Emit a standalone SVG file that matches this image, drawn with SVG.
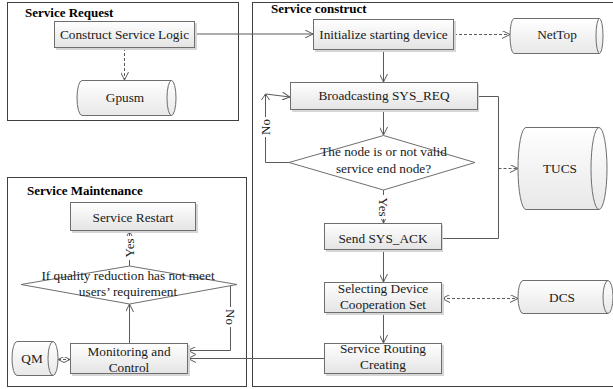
<svg xmlns="http://www.w3.org/2000/svg" width="613" height="389" viewBox="0 0 613 389">
  <defs>
    <linearGradient id="boxFill" x1="0" y1="0" x2="0" y2="1">
      <stop offset="0" stop-color="#ffffff"/>
      <stop offset="1" stop-color="#e4e4e4"/>
    </linearGradient>
    <linearGradient id="cylFill" x1="0" y1="0" x2="0" y2="1">
      <stop offset="0" stop-color="#ffffff"/>
      <stop offset="1" stop-color="#e8e8e8"/>
    </linearGradient>
    <marker id="arr" viewBox="0 0 8 8" refX="8" refY="4" markerWidth="8" markerHeight="8" markerUnits="userSpaceOnUse" orient="auto-start-reverse">
      <path d="M0,0 L8,4 L0,8" fill="none" stroke="#5a5a5a" stroke-width="1"/>
    </marker>
    <marker id="arrS" viewBox="0 0 6 6" refX="6" refY="3" markerWidth="6" markerHeight="6" markerUnits="userSpaceOnUse" orient="auto-start-reverse">
      <path d="M0,0 L6,3 L0,6" fill="none" stroke="#5a5a5a" stroke-width="1"/>
    </marker>
  </defs>
  <style>
    .frame { fill: #ffffff; stroke: #404040; stroke-width: 1; }
    .title { font-family: "Liberation Serif", "Times New Roman", serif; font-size: 13px; font-weight: bold; fill: #000; }
    .box { fill: url(#boxFill); stroke: #6e6e6e; stroke-width: 1; }
    .shadow { fill: #d6d6d6; }
    .cyl { fill: url(#cylFill); stroke: #6e6e6e; stroke-width: 1; }
    .cylEnd { fill: none; stroke: #6e6e6e; stroke-width: 1; }
    .dia { fill: #ffffff; stroke: #6e6e6e; stroke-width: 1; }
    .t { font-family: "Liberation Serif", "Times New Roman", serif; font-size: 13.3px; fill: #1a1a1a; text-anchor: middle; }
    .lbl { font-family: "Liberation Serif", "Times New Roman", serif; font-size: 13px; fill: #1a1a1a; text-anchor: middle; }
    .lblbg { fill: #ffffff; }
    .c { fill: none; stroke: #5a5a5a; stroke-width: 1; }
    .d { fill: none; stroke: #5a5a5a; stroke-width: 1; stroke-dasharray: 3 2; }
  </style>

  <!-- section frames -->
  <g id="section-request">
    <rect class="frame" x="7.5" y="2.5" width="231" height="118"/>
    <text class="title" x="25" y="17">Service Request</text>
  </g>
  <g id="section-construct">
    <rect class="frame" x="252.5" y="2.5" width="362" height="384"/>
    <text class="title" x="271" y="13">Service construct</text>
  </g>
  <g id="section-maintenance">
    <rect class="frame" x="7.5" y="177.5" width="239" height="209"/>
    <text class="title" x="27" y="195">Service Maintenance</text>
  </g>

  <!-- connectors -->
  <g id="connectors">
    <!-- request -> construct -->
    <path class="c" d="M195,34 H313" marker-end="url(#arr)"/>
    <path class="d" d="M124.5,48 V80" marker-end="url(#arr)"/>
    <path class="d" d="M454,34.5 H510" marker-end="url(#arr)"/>
    <path class="c" d="M383.5,50 V82" marker-end="url(#arr)"/>
    <path class="c" d="M383.5,110 V135" marker-end="url(#arr)"/>
    <!-- no loop back to broadcasting -->
    <path class="c" d="M289,162.5 H265.5 V94 L290,97" marker-end="url(#arr)"/>
    <path class="c" d="M261.5,100 L265.5,94 L269.5,100"/>
    <!-- yes branch -->
    <path class="c" d="M383.5,190 V223" marker-end="url(#arr)"/>
    <!-- broadcasting / send ack to TUCS -->
    <path class="c" d="M478,96.5 H498.5 V238.5 H441"/>
    <path class="d" d="M498.5,168.5 H518" marker-end="url(#arr)"/>
    <path class="c" d="M383.5,250 V282" marker-end="url(#arr)"/>
    <path class="d" d="M442,298.5 H518" marker-start="url(#arr)" marker-end="url(#arr)"/>
    <path class="c" d="M383.5,313 V343" marker-end="url(#arr)"/>
    <!-- routing -> monitoring -->
    <path class="c" d="M324,358.5 H188" marker-end="url(#arr)"/>
    <!-- maintenance loop -->
    <path class="c" d="M129.5,343 V304" marker-end="url(#arr)"/>
    <path class="c" d="M129.5,266 V231" marker-end="url(#arr)"/>
    <path class="c" d="M237,284.5 H230.5 V350.5 H188" marker-end="url(#arr)"/>
    <path class="d" d="M58,359.5 H70" marker-start="url(#arrS)" marker-end="url(#arrS)"/>
    <!-- branch labels -->
    <rect class="lblbg" x="259" y="117" width="13" height="20"/>
    <text class="lbl" transform="translate(269.5,127) rotate(-90)">No</text>
    <rect class="lblbg" x="377" y="195" width="13" height="24"/>
    <text class="lbl" transform="translate(379,207) rotate(90)">Yes</text>
    <rect class="lblbg" x="123" y="236" width="13" height="24"/>
    <text class="lbl" transform="translate(134,248) rotate(-90)">Yes</text>
    <rect class="lblbg" x="224" y="307" width="13" height="20"/>
    <text class="lbl" transform="translate(226,317) rotate(90)">No</text>
  </g>

  <!-- service request nodes -->
  <g id="construct-logic">
    <rect class="shadow" x="56" y="23" width="141" height="27"/>
    <rect class="box" x="54.5" y="21.5" width="140" height="26"/>
    <text class="t" x="124.5" y="38.5">Construct Service Logic</text>
  </g>
  <g id="gpusm">
    <path class="cyl" d="M82,80.5 H171.5 A4.5,17.5 0 0 1 171.5,115.5 H82 A5,17.5 0 0 1 82,80.5 Z"/>
    <path class="cylEnd" d="M171.5,80.5 A4.5,17.5 0 0 0 171.5,115.5"/>
    <text class="t" x="125" y="102">Gpusm</text>
  </g>

  <!-- service construct nodes -->
  <g id="init-device">
    <rect class="shadow" x="315" y="21" width="141" height="31"/>
    <rect class="box" x="313.5" y="19.5" width="140" height="30"/>
    <text class="t" x="383.5" y="39">Initialize starting device</text>
  </g>
  <g id="nettop">
    <path class="cyl" d="M514,18.5 H599.5 A3.5,17.5 0 0 1 599.5,53.5 H514 A4,17.5 0 0 1 514,18.5 Z"/>
    <path class="cylEnd" d="M599.5,18.5 A3.5,17.5 0 0 0 599.5,53.5"/>
    <text class="t" x="557" y="39">NetTop</text>
  </g>
  <g id="broadcast">
    <rect class="shadow" x="292" y="84" width="187" height="28"/>
    <rect class="box" x="290.5" y="82.5" width="187" height="27"/>
    <text class="t" x="384" y="100">Broadcasting SYS_REQ</text>
  </g>
  <g id="valid-node">
    <polygon class="dia" points="383.5,135.5 475,162.5 383.5,190 289,162.5"/>
    <text class="t" x="383.5" y="156">The node is or not valid</text>
    <text class="t" x="383.5" y="173">service end node?</text>
  </g>
  <g id="tucs">
    <path class="cyl" d="M526,127.5 H599 A8,41 0 0 1 599,209.5 H526 A8,41 0 0 1 526,127.5 Z"/>
    <path class="cylEnd" d="M599,127.5 A8,41 0 0 0 599,209.5"/>
    <text class="t" x="560" y="173">TUCS</text>
  </g>
  <g id="send-ack">
    <rect class="shadow" x="326" y="225" width="117" height="27"/>
    <rect class="box" x="324.5" y="223.5" width="117" height="26"/>
    <text class="t" x="383" y="243">Send SYS_ACK</text>
  </g>
  <g id="select-set">
    <rect class="shadow" x="326" y="284" width="118" height="31"/>
    <rect class="box" x="324.5" y="282.5" width="117" height="30"/>
    <text class="t" x="383" y="293">Selecting Device</text>
    <text class="t" x="383" y="309">Cooperation Set</text>
  </g>
  <g id="dcs">
    <path class="cyl" d="M523,280.5 H608 A5,16.5 0 0 1 608,313.5 H523 A5,16.5 0 0 1 523,280.5 Z"/>
    <path class="cylEnd" d="M608,280.5 A5,16.5 0 0 0 608,313.5"/>
    <text class="t" x="562" y="302">DCS</text>
  </g>
  <g id="routing">
    <rect class="shadow" x="326" y="345" width="118" height="31"/>
    <rect class="box" x="324.5" y="343.5" width="117" height="30"/>
    <text class="t" x="383" y="353">Service Routing</text>
    <text class="t" x="383" y="369">Creating</text>
  </g>

  <!-- service maintenance nodes -->
  <g id="restart">
    <rect class="shadow" x="72" y="204" width="126" height="29"/>
    <rect class="box" x="70.5" y="202.5" width="125" height="28"/>
    <text class="t" x="133" y="222">Service Restart</text>
  </g>
  <g id="quality-check">
    <polygon class="dia" points="129.5,266 237,284.5 129.5,304 21,284.5"/>
    <text class="t" x="128" y="280">If quality reduction has not meet</text>
    <text class="t" x="128" y="296">users’ requirement</text>
  </g>
  <g id="monitoring">
    <rect class="shadow" x="72" y="345" width="118" height="31"/>
    <rect class="box" x="70.5" y="343.5" width="117" height="30"/>
    <text class="t" x="129" y="356">Monitoring and</text>
    <text class="t" x="129" y="372">Control</text>
  </g>
  <g id="qm">
    <path class="cyl" d="M17,341.5 H53 A5,17 0 0 1 53,375.5 H17 A5,17 0 0 1 17,341.5 Z"/>
    <path class="cylEnd" d="M53,341.5 A5,17 0 0 0 53,375.5"/>
    <text class="t" x="32" y="363">QM</text>
  </g>
</svg>
